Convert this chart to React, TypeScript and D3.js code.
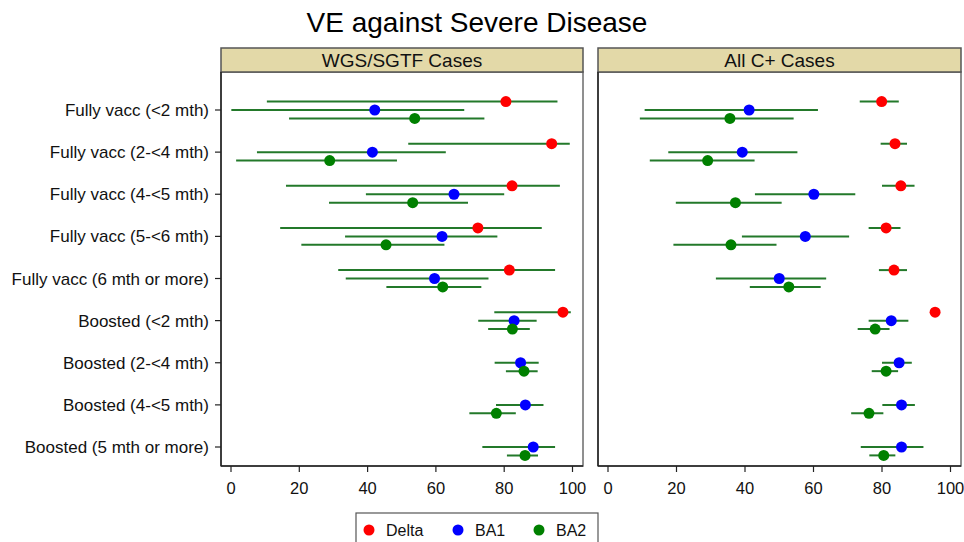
import React from 'react';
import * as d3 from 'd3';

type Est = [number, number | null, number | null] | null;

const rows = [
  'Fully vacc (<2 mth)',
  'Fully vacc (2-<4 mth)',
  'Fully vacc (4-<5 mth)',
  'Fully vacc (5-<6 mth)',
  'Fully vacc (6 mth or more)',
  'Boosted (<2 mth)',
  'Boosted (2-<4 mth)',
  'Boosted (4-<5 mth)',
  'Boosted (5 mth or more)',
];

const xTicks = [0, 20, 40, 60, 80, 100];

// [estimate, lower, upper] for each row
const wgsDelta: Est[] = [
  [80.5, 10.5, 95.6], [93.9, 51.9, 99.2], [82.3, 16.1, 96.3], [72.3, 14.4, 91.0],
  [81.5, 31.4, 94.9], [97.2, 77.1, 99.5], null, null, null,
];
const wgsBA1: Est[] = [
  [42.1, 0.1, 68.3], [41.4, 7.6, 62.9], [65.3, 39.5, 80.0], [61.8, 33.4, 78.0],
  [59.6, 33.6, 75.4], [82.9, 72.4, 89.5], [84.8, 77.2, 90.1], [86.2, 77.6, 91.5],
  [88.5, 73.6, 94.9],
];
const wgsBA2: Est[] = [
  [53.8, 17.0, 74.2], [28.9, 1.5, 48.6], [53.2, 28.7, 69.4], [45.4, 20.6, 62.5],
  [62.0, 45.5, 73.3], [82.4, 75.3, 87.5], [85.8, 80.5, 89.8], [77.7, 69.8, 83.4],
  [86.1, 80.8, 89.9],
];

const allDelta: Est[] = [
  [79.9, 73.5, 84.9], [83.8, 79.6, 87.3], [85.5, 80.0, 89.5], [81.2, 76.1, 85.4],
  [83.5, 79.1, 87.3], [95.5, null, null], null, null, null,
];
const allBA1: Est[] = [
  [41.2, 10.7, 61.3], [39.2, 17.6, 55.3], [60.1, 42.9, 72.2], [57.6, 39.1, 70.4],
  [50.0, 31.5, 63.7], [82.7, 76.1, 87.7], [85.0, 80.0, 88.7], [85.7, 80.1, 89.6],
  [85.7, 73.8, 92.1],
];
const allBA2: Est[] = [
  [35.6, 9.3, 54.2], [29.1, 12.2, 42.8], [37.2, 19.8, 50.7], [35.9, 19.1, 49.2],
  [52.8, 41.4, 62.1], [78.0, 72.9, 82.2], [81.2, 77.0, 84.7], [76.2, 71.0, 80.4],
  [80.5, 76.3, 83.9],
];

const seriesNames = ['Delta', 'BA1', 'BA2'];
const seriesColors = ['#ff0000', '#0000ff', '#008000'];

const panels = [
  { title: 'WGS/SGTF Cases', left: 221, right: 583, data: [wgsDelta, wgsBA1, wgsBA2] },
  { title: 'All C+ Cases', left: 598, right: 961, data: [allDelta, allBA1, allBA2] },
];

const font = '"Liberation Sans", Arial, sans-serif';
const ciColor = '#23792a';

const App = () => {
  const W = 964;
  const H = 542;
  const headTop = 48;
  const plotTop = 72;
  const plotBottom = 466;

  const y = d3.scalePoint<string>().domain(rows).range([110, 447]);
  const offset = d3.scalePoint<string>().domain(seriesNames).range([-8.4, 8.4]);

  return (
    <svg width={W} height={H} style={{ position: 'absolute', left: 0, top: 0, fontFamily: font }}>
      <rect width={W} height={H} fill="#fff" />
      <text x={477} y={32} textAnchor="middle" fontSize={28} fill="#000">
        VE against Severe Disease
      </text>

      {panels.map((p, pi) => {
        const x = d3.scaleLinear().domain([0, 100]).range([p.left + 10, p.right - 10.5]);
        return (
          <g key={p.title}>
            <rect x={p.left} y={plotTop} width={p.right - p.left} height={plotBottom - plotTop}
              fill="#fff" stroke="#6b6b6b" strokeWidth={1.5} />
            <rect x={p.left} y={headTop} width={p.right - p.left} height={plotTop - headTop}
              fill="#e3d9a8" stroke="#555" strokeWidth={1.5} />
            <text x={(p.left + p.right) / 2} y={67} textAnchor="middle" fontSize={19} fill="#111">
              {p.title}
            </text>
            {/* axes */}
            <line x1={p.left} x2={p.left} y1={plotTop} y2={plotBottom} stroke="#222" strokeWidth={1.5} />
            <line x1={p.left} x2={p.right} y1={plotBottom} y2={plotBottom} stroke="#222" strokeWidth={1.5} />
            {xTicks.map(t => (
              <g key={t}>
                <line x1={x(t)} x2={x(t)} y1={plotBottom} y2={plotBottom + 6} stroke="#222" strokeWidth={1.2} />
                <text x={x(t)} y={494} textAnchor="middle" fontSize={16.5} fill="#111">{t}</text>
              </g>
            ))}
            {pi === 0 && rows.map(r => (
              <g key={r}>
                <line x1={p.left - 6} x2={p.left} y1={y(r)} y2={y(r)} stroke="#222" strokeWidth={1.2} />
                <text x={p.left - 12} y={(y(r) as number) + 6} textAnchor="end" fontSize={17} fill="#111">{r}</text>
              </g>
            ))}
            {/* confidence intervals */}
            {p.data.map((ser, si) => ser.map((d, ri) => {
              if (!d || d[1] == null || d[2] == null) return null;
              const yy = (y(rows[ri]) as number) + (offset(seriesNames[si]) as number);
              return <line key={`ci-${si}-${ri}`} x1={x(d[1])} x2={x(d[2])} y1={yy} y2={yy}
                stroke={ciColor} strokeWidth={2} />;
            }))}
            {p.data.map((ser, si) => ser.map((d, ri) => {
              if (!d) return null;
              const yy = (y(rows[ri]) as number) + (offset(seriesNames[si]) as number);
              return <circle key={`pt-${si}-${ri}`} cx={x(d[0])} cy={yy} r={5.5} fill={seriesColors[si]} />;
            }))}
          </g>
        );
      })}

      {/* legend */}
      <rect x={356} y={513} width={242} height={40} fill="#fff" stroke="#555" strokeWidth={1.2} />
      {seriesNames.map((s, i) => {
        const lx = [369, 458, 539][i];
        return (
          <g key={s}>
            <circle cx={lx} cy={530} r={5.5} fill={seriesColors[i]} />
            <text x={lx + 17} y={536} fontSize={16} fill="#111">{s}</text>
          </g>
        );
      })}
    </svg>
  );
};

export default App;
